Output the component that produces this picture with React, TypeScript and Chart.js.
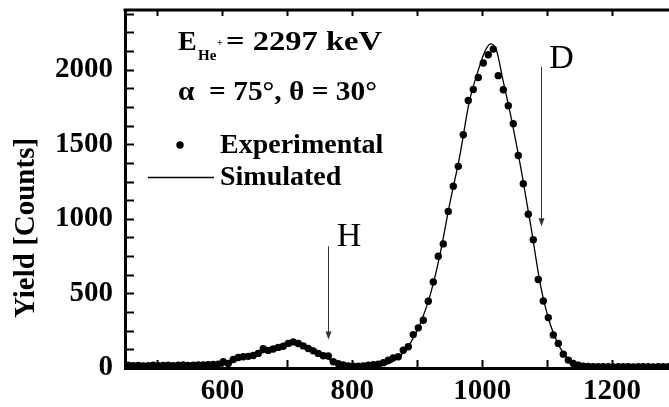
import React, { useEffect, useRef } from "react";
import { Chart, registerables } from "chart.js";

Chart.register(...registerables);

// Experimental spectrum (channel energy in keV, counts)
const energyKeV = [
  455.0, 462.7, 470.4, 478.1, 485.8, 493.5, 501.2, 508.9, 516.6, 524.3,
  532.0, 539.7, 547.4, 555.1, 562.8, 570.5, 578.2, 585.9, 593.6, 601.3,
  609.0, 616.7, 624.4, 632.1, 639.8, 647.5, 655.2, 662.9, 670.6, 678.3,
  686.0, 693.7, 701.4, 709.1, 716.8, 724.5, 732.2, 739.9, 747.6, 755.3,
  763.0, 770.7, 778.4, 786.1, 793.8, 801.5, 809.2, 816.9, 824.6, 832.3,
  840.0, 847.7, 855.4, 863.1, 870.8, 878.5, 886.2, 893.9, 901.6, 909.3,
  917.0, 924.7, 932.4, 940.1, 947.8, 955.5, 963.2, 970.9, 978.6, 986.3,
  994.0, 1001.7, 1009.4, 1017.1, 1024.8, 1032.5, 1040.2, 1047.9, 1055.6, 1063.3,
  1071.0, 1078.7, 1086.4, 1094.1, 1101.8, 1109.5, 1117.2, 1124.9, 1132.6, 1140.3,
  1148.0, 1155.7, 1163.4, 1171.1, 1178.8, 1186.5, 1194.2, 1201.9, 1209.6, 1217.3,
  1225.0, 1232.7, 1240.4, 1248.1, 1255.8, 1263.5, 1271.2, 1278.9, 1286.6, 1294.3,
];
const expCounts = [
  18, 15, 17, 14, 16, 18, 15, 17, 19, 16,
  18, 20, 17, 19, 21, 20, 22, 24, 26, 42,
  30, 57, 70, 75, 78, 84, 98, 130, 118, 127,
  138, 146, 165, 175, 164, 148, 131, 115, 98, 82,
  80, 42, 28, 20, 14, 12, 12, 14, 18, 22,
  26, 36, 52, 68, 75, 119, 142, 224, 269, 320,
  447, 577, 749, 832, 1050, 1218, 1352, 1564, 1793, 1867,
  1947, 2045, 2100, 2138, 1960, 1865, 1758, 1638, 1425, 1235,
  1031, 860, 593, 449, 338, 222, 165, 93, 53, 31,
  18, 12, 10, 9, 8, 9, 8, 7, 8, 9,
  8, 7, 8, 9, 8, 7, 8, 9, 8, 8,
];

// Simulated spectrum
const simEnergyKeV = [
  455, 520, 580, 600, 620, 640, 660, 680, 700, 712,
  725, 740, 755, 770, 785, 800, 815, 830, 845, 860,
  875, 890, 905, 920, 935, 950, 965, 980, 995, 1005,
  1013, 1022, 1032, 1045, 1060, 1075, 1090, 1105, 1120, 1135,
  1150, 1165, 1180, 1300,
];
const simCounts = [
  8, 8, 10, 20, 50, 75, 100, 125, 155, 165,
  150, 115, 80, 45, 20, 8, 4, 5, 15, 38,
  85, 170, 300, 490, 760, 1100, 1410, 1780, 2010, 2130,
  2173, 2130, 1930, 1670, 1330, 950, 550, 290, 135, 50,
  16, 5, 2, 2,
];

const xLabelValues = [600, 800, 1000, 1200];
const yLabelValues = [0, 500, 1000, 1500, 2000];

const SERIF = "'Liberation Serif', 'Times New Roman', serif";

// draws text stretched horizontally to a target width
function fitText(ctx: CanvasRenderingContext2D, text: string, x: number, y: number, width: number) {
  const w = ctx.measureText(text).width;
  ctx.save();
  ctx.translate(x, y);
  ctx.scale(width / w, 1);
  ctx.fillText(text, 0, 0);
  ctx.restore();
}

const framePlugin = {
  id: "frameAndNotes",
  afterDatasetsDraw(chart: any) {
    const { ctx, chartArea, scales } = chart;
    const xs = scales.x;
    const ys = scales.y;
    ctx.save();
    ctx.strokeStyle = "#000";
    ctx.fillStyle = "#000";

    // top frame line
    ctx.lineWidth = 3;
    ctx.beginPath();
    ctx.moveTo(chartArea.left - 1.5, chartArea.top);
    ctx.lineTo(chartArea.right + 2, chartArea.top);
    ctx.stroke();

    // inward ticks
    ctx.lineWidth = 2;
    xs.ticks.forEach((t: any) => {
      const px = Math.round(xs.getPixelForValue(t.value)) + 0.5;
      ctx.beginPath();
      ctx.moveTo(px, chartArea.bottom);
      ctx.lineTo(px, chartArea.bottom - 8);
      ctx.moveTo(px, chartArea.top);
      ctx.lineTo(px, chartArea.top + 6);
      ctx.stroke();
    });
    ys.ticks.forEach((t: any) => {
      const py = Math.round(ys.getPixelForValue(t.value)) + 0.5;
      ctx.beginPath();
      ctx.moveTo(chartArea.left, py);
      ctx.lineTo(chartArea.left + 9, py);
      ctx.stroke();
    });

    // y axis title
    ctx.save();
    ctx.translate(27, 228);
    ctx.rotate(-Math.PI / 2);
    ctx.font = `bold 29px ${SERIF}`;
    ctx.textAlign = "center";
    ctx.textBaseline = "middle";
    ctx.fillText("Yield [Counts]", 0, 0);
    ctx.restore();

    // annotation text
    ctx.textAlign = "left";
    ctx.textBaseline = "alphabetic";
    ctx.font = `bold 28px ${SERIF}`;
    ctx.fillText("E", 178, 50);
    ctx.font = `bold 15px ${SERIF}`;
    ctx.fillText("He", 198, 60);
    ctx.font = `bold 10px ${SERIF}`;
    ctx.fillText("+", 217, 46);
    ctx.font = `bold 28px ${SERIF}`;
    fitText(ctx, "= 2297 keV", 226, 50, 156);
    fitText(ctx, "\u03b1  = 75\u00b0, \u03b8 = 30\u00b0", 178, 100, 199);

    // legend
    ctx.beginPath();
    ctx.arc(180, 145, 3.7, 0, Math.PI * 2);
    ctx.fill();
    ctx.fillText("Experimental", 220, 153);
    ctx.lineWidth = 1.4;
    ctx.beginPath();
    ctx.moveTo(148, 177.5);
    ctx.lineTo(214, 177.5);
    ctx.stroke();
    ctx.fillText("Simulated", 220, 185);

    // H and D markers with arrows
    const arrow = (xv: number, y0: number, y1: number) => {
      const px = Math.round(xs.getPixelForValue(xv)) + 0.5;
      const p0 = ys.getPixelForValue(y0);
      const p1 = ys.getPixelForValue(y1);
      ctx.strokeStyle = "#333";
      ctx.fillStyle = "#333";
      ctx.lineWidth = 1;
      ctx.beginPath();
      ctx.moveTo(px, p0);
      ctx.lineTo(px, p1 - 6);
      ctx.stroke();
      ctx.beginPath();
      ctx.moveTo(px - 3, p1 - 8);
      ctx.lineTo(px + 3, p1 - 8);
      ctx.lineTo(px, p1);
      ctx.closePath();
      ctx.fill();
    };
    arrow(763, 816, 191);
    arrow(1090.5, 2021, 950);

    ctx.fillStyle = "#000";
    ctx.font = `34px ${SERIF}`;
    ctx.textAlign = "center";
    ctx.fillText("H", xs.getPixelForValue(795), ys.getPixelForValue(821));
    ctx.fillText("D", xs.getPixelForValue(1122), ys.getPixelForValue(2011));

    ctx.restore();
  },
};

export default function App() {
  const canvasRef = useRef<HTMLCanvasElement | null>(null);

  useEffect(() => {
    const canvas = canvasRef.current;
    if (!canvas) return;
    const expData = energyKeV.map((x, i) => ({ x, y: expCounts[i] }));
    const simData = simEnergyKeV.map((x, i) => ({ x, y: simCounts[i] }));

    const chart = new Chart(canvas, {
      type: "scatter",
      data: {
        datasets: [
          {
            label: "Simulated",
            type: "line",
            data: simData,
            borderColor: "#000",
            borderWidth: 1.3,
            pointRadius: 0,
            cubicInterpolationMode: "monotone",
            fill: false,
            order: 2,
          } as any,
          {
            label: "Experimental",
            data: expData,
            backgroundColor: "#000",
            borderColor: "#000",
            borderWidth: 0,
            pointRadius: 3.7,
            showLine: false,
            order: 1,
          },
        ],
      },
      options: {
        animation: false,
        responsive: false,
        devicePixelRatio: 1,
        layout: { padding: { top: 10, left: 0, right: 0, bottom: 0 } },
        plugins: {
          legend: { display: false },
          tooltip: { enabled: false },
        },
        scales: {
          x: {
            type: "linear",
            min: 450,
            max: 1300,
            afterFit: (s: any) => {
              s.height = 39;
              s.paddingLeft = 0;
              s.paddingRight = 0;
            },
            grid: { display: true, drawOnChartArea: false, drawTicks: false },
            border: { display: true, width: 3, color: "#000" },
            ticks: {
              stepSize: 100,
              includeBounds: false,
              autoSkip: false,
              maxRotation: 0,
              padding: 6,
              color: "#000",
              font: { family: SERIF, size: 29, weight: "bold" },
              callback: (v: any) => (xLabelValues.includes(Number(v)) ? String(v) : ""),
            },
          },
          y: {
            type: "linear",
            min: 0,
            max: 2400,
            afterFit: (s: any) => {
              s.width = 125;
              s.paddingTop = 0;
              s.paddingBottom = 0;
            },
            grid: { display: true, drawOnChartArea: false, drawTicks: false },
            border: { display: true, width: 3, color: "#000" },
            ticks: {
              stepSize: 125,
              includeBounds: false,
              autoSkip: false,
              padding: 12,
              color: "#000",
              font: { family: SERIF, size: 29, weight: "bold" },
              callback: (v: any) => (yLabelValues.includes(Number(v)) ? String(v) : ""),
            },
          },
        },
      },
      plugins: [framePlugin],
    });
    return () => chart.destroy();
  }, []);

  return (
    <div style={{ position: "fixed", left: 0, top: 0, width: 681, height: 407, background: "#fff" }}>
      <canvas ref={canvasRef} width={681} height={407} style={{ display: "block" }} />
    </div>
  );
}
